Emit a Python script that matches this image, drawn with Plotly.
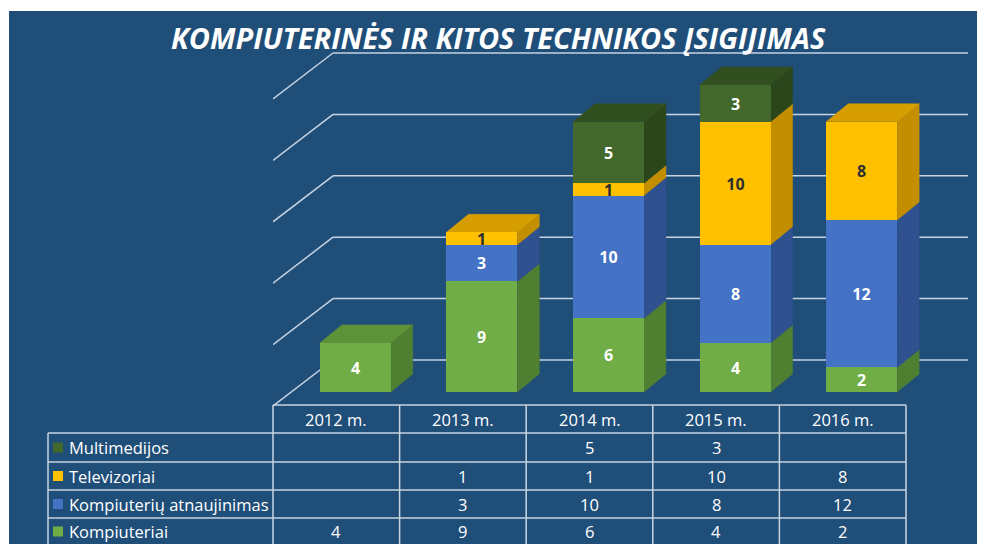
import plotly.graph_objects as go

# ---------------- data ----------------
years = ["2012 m.", "2013 m.", "2014 m.", "2015 m.", "2016 m."]
kompiuteriai = [4, 9, 6, 4, 2]
atnaujinimas = [None, 3, 10, 8, 12]
televizoriai = [None, 1, 1, 10, 8]
multimedijos = [None, None, 5, 3, None]
title_text = "KOMPIUTERINĖS IR KITOS TECHNIKOS ĮSIGIJIMAS"
grid_values = [0, 5, 10, 15, 20, 25]

series = [
    ("Kompiuteriai", kompiuteriai, "#70AD47", "#4F7F31", "#5E9239", "white"),
    ("Kompiuterių atnaujinimas", atnaujinimas, "#4472C4", "#2F518F", "#3A62AA", "white"),
    ("Televizoriai", televizoriai, "#FFC000", "#C38F00", "#D69E00", "#2E2E2E"),
    ("Multimedijos", multimedijos, "#43682B", "#2C461C", "#324F20", "white"),
]

# ---------------- layout geometry (page pixels) ----------------
VW, VH = 985, 544
BODY = 8                                  # default page margin around the plot div
W, H = VW - BODY, VH - BODY
PL, PR, PT, PB = 273, 968, 40, 406       # plot area in page pixels
COL_W = 126.6                            # table column width in px
PX_UNIT = 12.28                          # px per value unit
ZERO_PX = 392                            # front face baseline
BG = "#1F4E79"
GRID = "#C6D3E2"

xmin = -0.5
xmax = xmin + (PR - PL) / COL_W
ymin = -(PB - ZERO_PX) / PX_UNIT
ymax = ymin + (PB - PT) / PX_UNIT

bar_w = 0.56
bar_shift = 0.15
depth_x = 22 / COL_W
depth_y = 18 / PX_UNIT
wall_shift = (ZERO_PX - 360) / PX_UNIT     # back wall offset
front_floor = (ZERO_PX - PB) / PX_UNIT
wall_x0 = xmin + (333 - PL) / COL_W


def px2paper_x(px):
    return (px - PL) / (PR - PL)


def px2paper_y(py):
    return (PB - py) / (PB - PT)


def ax2paper_x(xv):
    return (xv - xmin) / (xmax - xmin)


fig = go.Figure()
shapes = []

# thin white edge around the blue panel
shapes.append(dict(type="rect", xref="paper", yref="paper", layer="below",
                   x0=px2paper_x(0), x1=px2paper_x(VW), y0=px2paper_y(0), y1=px2paper_y(11),
                   fillcolor="white", line=dict(width=0)))
shapes.append(dict(type="rect", xref="paper", yref="paper", layer="below",
                   x0=px2paper_x(0), x1=px2paper_x(9), y0=px2paper_y(0), y1=px2paper_y(VH),
                   fillcolor="white", line=dict(width=0)))

# back wall gridlines + side wall diagonals
for v in grid_values:
    shapes.append(dict(type="line", xref="x", yref="y", layer="below",
                       x0=wall_x0, x1=xmax, y0=v + wall_shift, y1=v + wall_shift,
                       line=dict(color=GRID, width=1.5)))
    shapes.append(dict(type="line", xref="x", yref="y", layer="below",
                       x0=xmin, x1=wall_x0, y0=v + front_floor, y1=v + wall_shift,
                       line=dict(color=GRID, width=1.5)))

# 3D side / top faces
bases = [0.0] * len(years)
tops = [None] * len(years)
for name, vals, front, side, top, tcol in series:
    for i, v in enumerate(vals):
        if not v:
            continue
        b = bases[i]
        xr = i - bar_w / 2 + bar_shift + bar_w
        path = (f"M {xr},{b} L {xr + depth_x},{b + depth_y} "
                f"L {xr + depth_x},{b + v + depth_y} L {xr},{b + v} Z")
        shapes.append(dict(type="path", xref="x", yref="y", layer="below", path=path,
                           fillcolor=side, line=dict(color=side, width=0.5)))
        bases[i] = b + v
        tops[i] = top

for i, t in enumerate(bases):
    xl = i - bar_w / 2 + bar_shift
    xr = xl + bar_w
    path = (f"M {xl},{t} L {xl + depth_x},{t + depth_y} "
            f"L {xr + depth_x},{t + depth_y} L {xr},{t} Z")
    shapes.append(dict(type="path", xref="x", yref="y", layer="below", path=path,
                       fillcolor=tops[i], line=dict(color=tops[i], width=0.5)))

# front faces (bars)
for name, vals, front, side, top, tcol in series:
    fig.add_trace(go.Bar(
        x=list(range(len(years))), y=vals, name=name,
        width=bar_w, offset=-bar_w / 2 + bar_shift,
        marker=dict(color=front, line=dict(width=0)),
        text=[str(v) if v else "" for v in vals],
        textposition="inside", insidetextanchor="middle", constraintext="none",
        textangle=0,
        textfont=dict(family="Open Sans", size=16, color=tcol, weight="bold"),
        hoverinfo="skip", showlegend=False,
    ))

# ---------------- data table ----------------
TLINE = "#C9D4E1"
header_top, header_bot = 405, 433
row_edges = [433, 462, 490, 518, 547]
label_left = 48
table_right = PL + COL_W * len(years)
annotations = []

shapes.append(dict(type="line", xref="paper", yref="paper",
                   x0=px2paper_x(PL), x1=px2paper_x(table_right),
                   y0=px2paper_y(header_top), y1=px2paper_y(header_top),
                   line=dict(color=TLINE, width=1.5)))
for k in range(len(years) + 1):
    xp = ax2paper_x(k - 0.5)
    shapes.append(dict(type="line", xref="paper", yref="paper",
                       x0=xp, x1=xp, y0=px2paper_y(header_top), y1=px2paper_y(VH + 5),
                       line=dict(color=TLINE, width=1.5)))
for ry in row_edges[:-1]:
    shapes.append(dict(type="line", xref="paper", yref="paper",
                       x0=px2paper_x(label_left), x1=px2paper_x(table_right),
                       y0=px2paper_y(ry), y1=px2paper_y(ry),
                       line=dict(color=TLINE, width=1.5)))
shapes.append(dict(type="line", xref="paper", yref="paper",
                   x0=px2paper_x(label_left), x1=px2paper_x(label_left),
                   y0=px2paper_y(row_edges[0]), y1=px2paper_y(VH + 5),
                   line=dict(color=TLINE, width=1.5)))

TFONT = dict(family="Open Sans", size=16.5, color="white")
for i, yr in enumerate(years):
    annotations.append(dict(x=i, y=px2paper_y((header_top + header_bot) / 2), xref="x", yref="paper",
                            text=yr, showarrow=False, font=TFONT, xanchor="center", yanchor="middle"))

table_rows = list(reversed(series))
for r, (name, vals, front, side, top, tcol) in enumerate(table_rows):
    cy = (row_edges[r] + row_edges[r + 1]) / 2
    if r == len(table_rows) - 1:
        cy = row_edges[r] + 13.5
    shapes.append(dict(type="rect", xref="paper", yref="paper",
                       x0=px2paper_x(53), x1=px2paper_x(63),
                       y0=px2paper_y(cy + 5), y1=px2paper_y(cy - 5),
                       fillcolor=front, line=dict(width=0)))
    annotations.append(dict(x=px2paper_x(67), y=px2paper_y(cy), xref="paper", yref="paper",
                            text=name, showarrow=False, font=TFONT, xanchor="left", yanchor="middle"))
    for i, v in enumerate(vals):
        if v:
            annotations.append(dict(x=i, y=px2paper_y(cy), xref="x", yref="paper",
                                    text=str(v), showarrow=False, font=TFONT,
                                    xanchor="center", yanchor="middle"))

# title
annotations.append(dict(x=px2paper_x(498), y=px2paper_y(37), xref="paper", yref="paper",
                        text=f"<b><i>{title_text}</i></b>", showarrow=False,
                        font=dict(family="Open Sans", size=29, color="white"),
                        xanchor="center", yanchor="middle"))

fig.update_layout(
    width=W, height=H,
    margin=dict(l=PL - BODY, r=VW - PR, t=PT - BODY, b=VH - PB, pad=0),
    paper_bgcolor=BG, plot_bgcolor=BG,
    barmode="stack", bargap=0,
    xaxis=dict(range=[xmin, xmax], visible=False, fixedrange=True),
    yaxis=dict(range=[ymin, ymax], visible=False, fixedrange=True),
    shapes=shapes, annotations=annotations,
    showlegend=False,
)

fig.write_html("out.html")
